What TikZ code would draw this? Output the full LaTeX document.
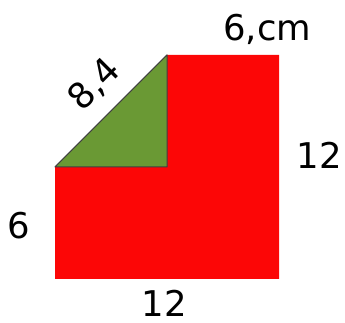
\documentclass[tikz,border=0pt]{standalone}
\usepackage{fontspec}
\setmainfont{DejaVu Sans}
\usepackage{xcolor}
\usepackage{tikz}
\usetikzlibrary{positioning}

\definecolor{shapered}{RGB}{252,6,6}
\definecolor{leafgreen}{RGB}{106,153,52}

\begin{document}
\begin{tikzpicture}[
    x=0.5cm, y=0.5cm,
    handtext/.style={font=\fontsize{27}{30}\selectfont, inner sep=0pt},
    redpart/.style={fill=shapered, draw=none},
    greenpart/.style={fill=leafgreen, draw=black!75, line width=0.8pt, line join=round}
]
  \useasboundingbox (-2.946,-2.357) rectangle (15.53,14.94);

  % red shape
  \fill[redpart] (6,12) -- (12,12) -- (12,0) -- (0,0) -- (0,6) -- (6,6) -- cycle;
  % green triangle
  \draw[greenpart] (0,6) -- (6,12) -- (6,6) -- cycle;

  \node[handtext] (top) at (11.36,13.34) {6,cm};
  \node[handtext] (right) at (14.14,6.64) {12};
  \node[handtext] (left) at (-1.93,2.84) {6};
  \node[handtext] (bottom) at (5.84,-1.3) {12};
  \node[handtext, rotate=45] (diag) at (2.14,10.39) {8,4};
\end{tikzpicture}
\end{document}
